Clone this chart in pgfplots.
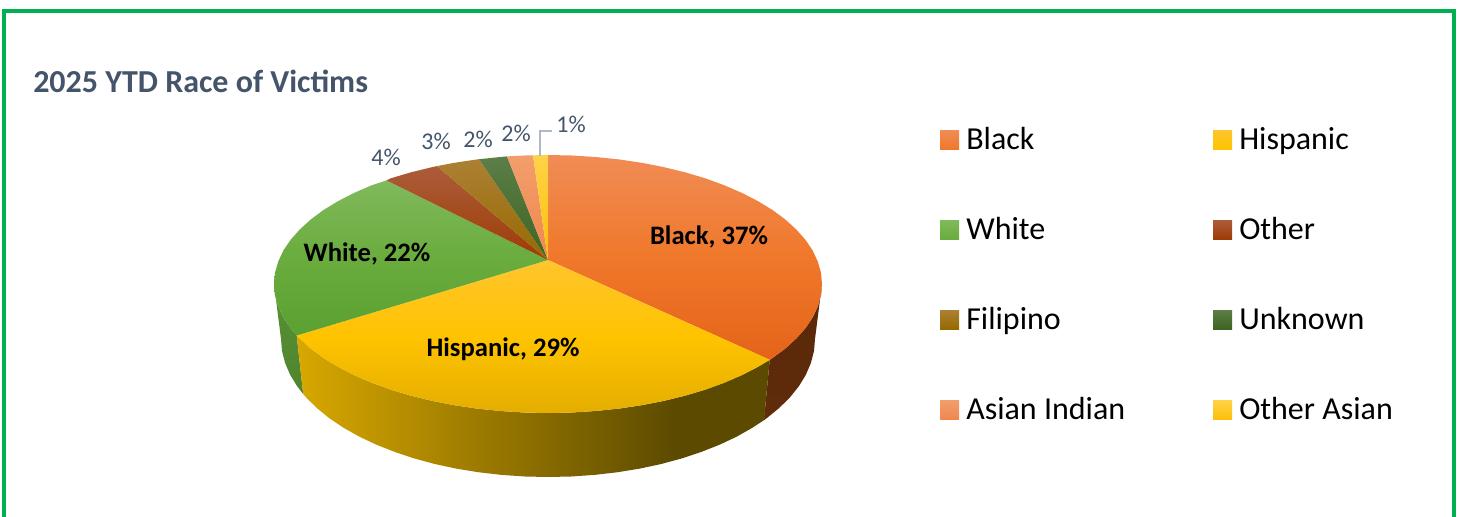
\documentclass[border=0pt]{standalone}
\usepackage{fontspec}
\setmainfont{Carlito}
\usepackage{pgfplots}
\pgfplotsset{compat=1.18}
\definecolor{frame}{HTML}{00B050}
\definecolor{slate}{HTML}{44546A}
\definecolor{leader}{HTML}{ADB9CA}
\definecolor{wallL}{RGB}{216,168,0}
\definecolor{wallR}{RGB}{92,74,0}
\definecolor{blackA}{RGB}{240,140,85}
\definecolor{blackB}{RGB}{240,120,42}
\definecolor{blackC}{RGB}{228,100,25}
\definecolor{hispA}{RGB}{255,197,45}
\definecolor{hispB}{RGB}{255,195,0}
\definecolor{hispC}{RGB}{228,174,0}
\definecolor{whiteA}{RGB}{128,186,92}
\definecolor{whiteB}{RGB}{106,172,62}
\definecolor{whiteC}{RGB}{92,160,50}
\definecolor{otherA}{RGB}{172,92,58}
\definecolor{otherB}{RGB}{158,60,5}
\definecolor{filiA}{RGB}{172,128,52}
\definecolor{filiB}{RGB}{150,106,0}
\definecolor{unkA}{RGB}{92,126,72}
\definecolor{unkB}{RGB}{62,100,34}
\definecolor{asinA}{RGB}{242,158,108}
\definecolor{asinB}{RGB}{240,135,78}
\definecolor{oasA}{RGB}{255,210,72}
\definecolor{oasB}{RGB}{252,192,8}
% wall shading of the Hispanic slice: golden on the left, flat dark on the right
\pgfdeclarehorizontalshading{hispwall}{100bp}{
  color(0bp)=(wallL);
  color(25bp)=(wallL);
  color(65bp)=(wallR);
  color(100bp)=(wallR)}
\newcommand{\legendkey}[4]{%
  \path[top color=#3,bottom color=#4] (axis cs:#1,#2) rectangle (axis cs:#1+19,#2+19);}
\newcommand{\legendtext}[3]{%
  \node[anchor=base west,inner sep=0pt,font=\fontsize{24}{28}\selectfont] at (axis cs:#1,#2) {#3};}
\begin{document}
\begin{tikzpicture}
\begin{axis}[
  hide axis,
  scale only axis,
  width=1094.25pt,
  height=387.75pt,
  xmin=0,xmax=1459,
  ymin=0,ymax=517,
  y dir=reverse,
]
% keeps the page as large as the whole axis, hide axis draws nothing
\path (axis cs:0,0) rectangle (axis cs:1459,517);
% side walls
% Black, 37%
\addplot[draw=none,top color={rgb,255:red,88;green,40;blue,10},bottom color={rgb,255:red,96;green,44;blue,10}] coordinates {
  (822,284) (821,295.2) (817.8,306.4) (812.7,317.4) (805.5,328.1) (796.3,338.5) (785.3,348.5) (772.5,358) (769.7,359.8)
  (764,420.1) (766.7,418.2) (779.2,408) (790,397.3) (798.9,386.2) (805.9,374.7) (810.9,363) (814,351) (815,339)
};
% White, 22%
\addplot[draw=none,top color={rgb,255:red,88;green,145;blue,52},bottom color={rgb,255:red,80;green,132;blue,46}] coordinates {
  (274,284) (275,295.2) (278.2,306.4) (283.3,317.4) (290.5,328.1) (296.7,335.5)
  (303.2,394) (297.1,386.2) (290.1,374.7) (285.1,363) (282,351) (281,339)
};
% Hispanic, 29%
\addplot[draw=none,shading=hispwall] coordinates {
  (769.7,359.8) (757.9,366.9) (741.7,375.2) (724.1,382.8) (705.2,389.7) (685,395.7) (663.8,400.9) (641.7,405.2)
  (618.9,408.6) (595.6,411) (571.9,412.5) (548,413) (524.1,412.5) (500.4,411) (477.1,408.6) (454.3,405.2)
  (432.2,400.9) (411,395.7) (390.8,389.7) (371.9,382.8) (354.3,375.2) (338.1,366.9) (323.5,358) (310.7,348.5)
  (299.7,338.5) (296.7,335.5)
  (303.2,394) (306,397.3) (316.8,408) (329.3,418.2) (343.5,427.7) (359.2,436.6) (376.4,444.7) (394.9,452)
  (414.5,458.5) (435.2,464.1) (456.7,468.7) (478.9,472.3) (501.6,474.9) (524.7,476.5) (548,477) (571.3,476.5)
  (594.4,474.9) (617.1,472.3) (639.3,468.7) (660.8,464.1) (681.5,458.5) (701.1,452) (719.6,444.7) (736.8,436.6)
  (752.5,427.7) (764,420.1)
};
% top faces
% Black, 37%
\addplot[draw=none,top color=blackA,bottom color=blackC,middle color=blackB] coordinates {
  (548,260) (548,155) (571.9,155.5) (595.6,157) (618.9,159.4) (641.7,162.8) (663.8,167.1) (685,172.3) (705.2,178.3)
  (724.1,185.2) (741.7,192.8) (757.9,201.1) (772.5,210) (785.3,219.5) (796.3,229.5) (805.5,239.9) (812.7,250.6)
  (817.8,261.6) (821,272.8) (822,284) (821,295.2) (817.8,306.4) (812.7,317.4) (805.5,328.1) (796.3,338.5)
  (785.3,348.5) (772.5,358) (769.7,359.8)
};
% Hispanic, 29%
\addplot[draw=none,top color=hispA,bottom color=hispC,middle color=hispB] coordinates {
  (548,260) (769.7,359.8) (757.9,366.9) (741.7,375.2) (724.1,382.8) (705.2,389.7) (685,395.7) (663.8,400.9)
  (641.7,405.2) (618.9,408.6) (595.6,411) (571.9,412.5) (548,413) (524.1,412.5) (500.4,411) (477.1,408.6)
  (454.3,405.2) (432.2,400.9) (411,395.7) (390.8,389.7) (371.9,382.8) (354.3,375.2) (338.1,366.9) (323.5,358)
  (310.7,348.5) (299.7,338.5) (296.7,335.5)
};
% White, 22%
\addplot[draw=none,top color=whiteA,bottom color=whiteC,middle color=whiteB] coordinates {
  (548,260) (296.7,335.5) (290.5,328.1) (283.3,317.4) (278.2,306.4) (275,295.2) (274,284) (275,272.8) (278.2,261.6)
  (283.3,250.6) (290.5,239.9) (299.7,229.5) (310.7,219.5) (323.5,210) (338.1,201.1) (354.3,192.8) (371.9,185.2)
  (386.5,180.4)
};
% Other, 4%
\addplot[draw=none,top color=otherA,bottom color=otherB] coordinates {
  (548,260) (386.5,180.4) (390.8,178.3) (411,172.3) (432.2,167.1) (437,166.1)
};
% Filipino, 3%
\addplot[draw=none,top color=filiA,bottom color=filiB] coordinates {
  (548,260) (437,166.1) (454.3,162.8) (477.1,159.4) (479,159.2)
};
% Unknown, 2%
\addplot[draw=none,top color=unkA,bottom color=unkB] coordinates {
  (548,260) (479,159.2) (500.4,157) (507,156.4)
};
% Asian Indian, 2%
\addplot[draw=none,top color=asinA,bottom color=asinB] coordinates {
  (548,260) (507,156.4) (524.1,155.5) (533,155.3)
};
% Other Asian, 1%
\addplot[draw=none,top color=oasA,bottom color=oasB] coordinates {
  (548,260) (533,155.3) (548,155)
};
% frame, open at the bottom
\draw[frame,line width=3pt] (axis cs:4,517) -- (axis cs:4,11) -- (axis cs:1454,11) -- (axis cs:1454,517);
% title
\node[anchor=base west,inner sep=0pt,text=slate,font=\fontsize{24}{28}\selectfont\bfseries] at (axis cs:33,93) {2025 YTD Race of Victims};
% data labels
\node[font=\fontsize{20}{24}\selectfont\bfseries] at (axis cs:709,237) {Black, 37\%};
\node[font=\fontsize{20}{24}\selectfont\bfseries] at (axis cs:367,254) {White, 22\%};
\node[font=\fontsize{20}{24}\selectfont\bfseries] at (axis cs:503,349) {Hispanic, 29\%};
\node[text=slate,font=\fontsize{18}{22}\selectfont] at (axis cs:386,157) {4\%};
\node[text=slate,font=\fontsize{18}{22}\selectfont] at (axis cs:436,141) {3\%};
\node[text=slate,font=\fontsize{18}{22}\selectfont] at (axis cs:478,139) {2\%};
\node[text=slate,font=\fontsize{18}{22}\selectfont] at (axis cs:516,133) {2\%};
\node[text=slate,font=\fontsize{18}{22}\selectfont] at (axis cs:571,124) {1\%};
\draw[leader,line width=1.2pt] (axis cs:540,156) -- (axis cs:540,131) -- (axis cs:552,131);
% legend
\legendkey{940}{130}{blackA}{blackB}
\legendkey{1213}{130}{hispA}{hispB}
\legendkey{940}{220}{whiteA}{whiteB}
\legendkey{1213}{220}{otherA}{otherB}
\legendkey{940}{310}{filiA}{filiB}
\legendkey{1213}{310}{unkA}{unkB}
\legendkey{940}{400}{asinA}{asinB}
\legendkey{1213}{400}{oasA}{oasB}
\legendtext{966}{149.5}{Black}
\legendtext{1239}{149.5}{Hispanic}
\legendtext{966}{239.5}{White}
\legendtext{1239}{239.5}{Other}
\legendtext{966}{329.5}{Filipino}
\legendtext{1239}{329.5}{Unknown}
\legendtext{966}{419.5}{Asian Indian}
\legendtext{1239}{419.5}{Other Asian}
\end{axis}
\end{tikzpicture}
\end{document}
